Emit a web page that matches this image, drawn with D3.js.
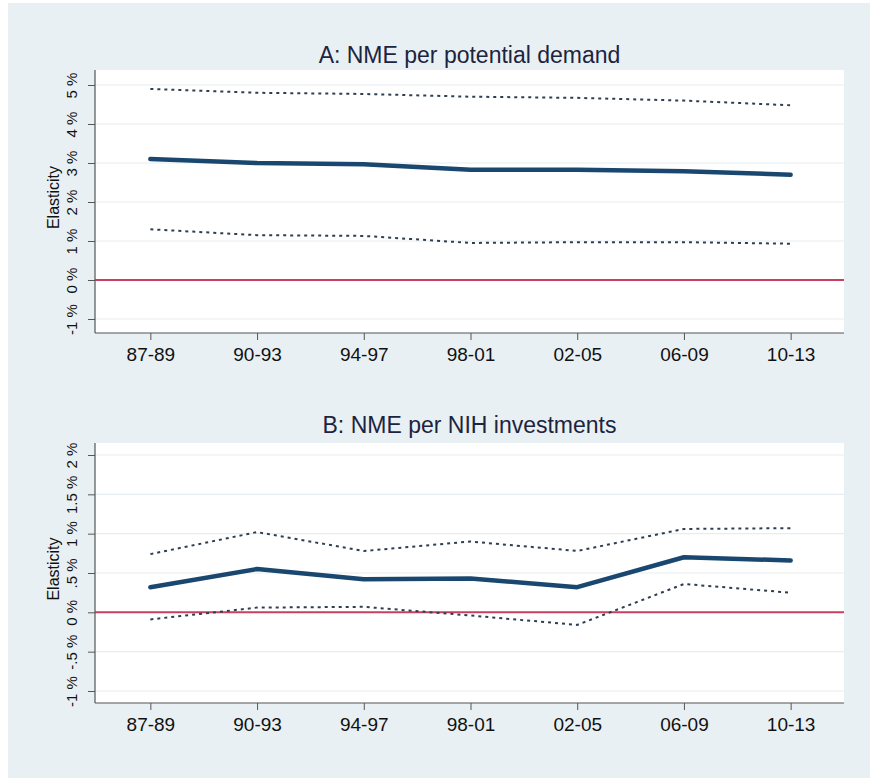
<!DOCTYPE html>
<html>
<head>
<meta charset="utf-8">
<script src="https://cdn.jsdelivr.net/npm/d3@7"></script>
<style>
  body { margin: 0; background: #ffffff; }
  svg { display: block; font-family: "Liberation Sans", Arial, Helvetica, sans-serif; }
  .tick_label { font-size: 19px; fill: #111; }
  .ytick_label { font-size: 15px; fill: #111; }
  .panel_title { font-size: 23px; fill: #1c2440; }
  .axis_title { font-size: 16px; fill: #111; }
</style>
</head>
<body>
<svg id="chart" width="870" height="778"></svg>
<script>
// periods on the x axis
var periods = ["87-89", "90-93", "94-97", "98-01", "02-05", "06-09", "10-13"];

// Panel A: NME per potential demand (elasticity, %)
var demandEstimate = [3.10, 3.00, 2.97, 2.83, 2.83, 2.79, 2.70];
var demandUpper    = [4.90, 4.80, 4.77, 4.70, 4.67, 4.60, 4.48];
var demandLower    = [1.30, 1.15, 1.13, 0.95, 0.97, 0.97, 0.93];
var demandTicks      = [-1, 0, 1, 2, 3, 4, 5];
var demandTickLabels = ["-1 %", "0 %", "1 %", "2 %", "3 %", "4 %", "5 %"];

// Panel B: NME per NIH investments (elasticity, %)
var nihEstimate = [0.32, 0.55, 0.42, 0.43, 0.32, 0.70, 0.66];
var nihUpper    = [0.74, 1.02, 0.78, 0.90, 0.78, 1.06, 1.07];
var nihLower    = [-0.09, 0.06, 0.07, -0.04, -0.16, 0.36, 0.25];
var nihTicks      = [-1, -0.5, 0, 0.5, 1, 1.5, 2];
var nihTickLabels = ["-1 %", "-.5 %", "0 %", ".5 %", "1 %", "1.5 %", "2 %"];

var svg = d3.select("#chart");

// outer background
svg.append("rect")
    .attr("x", 8).attr("y", 3)
    .attr("width", 862).attr("height", 775)
    .attr("fill", "#e9f0f3");

const plotLeft = 95, plotRight = 844;

var xScale = d3.scalePoint()
    .domain(periods)
    .range([plotLeft + 2, plotRight])
    .padding(0.5);

function drawPanel(opts) {
    var g = svg.append("g");
    var yScale = d3.scaleLinear()
        .domain([opts.ticks[0], opts.ticks[opts.ticks.length - 1]])
        .range(opts.tickRange);

    // plot region
    g.append("rect")
        .attr("x", plotLeft).attr("y", opts.top)
        .attr("width", plotRight - plotLeft).attr("height", opts.bottom - opts.top)
        .attr("fill", "white");

    // grid lines
    g.selectAll("line.grid")
        .data(opts.ticks).enter()
        .append("line").classed("grid", true)
        .attr("x1", plotLeft).attr("x2", plotRight)
        .attr("y1", d => yScale(d)).attr("y2", d => yScale(d))
        .attr("stroke", "#e6edf0")
        .attr("stroke-width", 1.2);

    // zero reference line
    g.append("line")
        .attr("x1", plotLeft).attr("x2", plotRight)
        .attr("y1", yScale(0)).attr("y2", yScale(0))
        .attr("stroke", "#c8405f")
        .attr("stroke-width", 2);

    // y axis
    var yAxis = d3.axisLeft(yScale)
        .tickValues(opts.ticks)
        .tickSize(7)
        .tickSizeOuter(0)
        .tickFormat((d, i) => opts.tickLabels[i]);
    var yg = g.append("g")
        .attr("transform", "translate(" + plotLeft + ",0)")
        .call(yAxis);
    yg.select(".domain").remove();
    yg.selectAll(".tick line").attr("stroke", "#555");
    yg.selectAll(".tick text")
        .attr("class", "ytick_label")
        .attr("x", null).attr("dy", null)
        .attr("font-size", null).attr("font-family", null).attr("fill", null)
        .attr("text-anchor", "middle")
        .attr("transform", "translate(-18,0) rotate(-90)");

    // x axis
    var xAxis = d3.axisBottom(xScale)
        .tickSize(7)
        .tickSizeOuter(0)
        .tickPadding(8);
    var xg = g.append("g")
        .attr("transform", "translate(0," + opts.bottom + ")")
        .call(xAxis);
    xg.select(".domain").remove();
    xg.selectAll(".tick line").attr("stroke", "#555");
    xg.selectAll(".tick text")
        .attr("class", "tick_label")
        .attr("font-size", null).attr("font-family", null).attr("fill", null);

    // axis lines
    g.append("line")
        .attr("x1", plotLeft).attr("x2", plotLeft)
        .attr("y1", opts.top).attr("y2", opts.bottom)
        .attr("stroke", "#555").attr("stroke-width", 1.2);
    g.append("line")
        .attr("x1", plotLeft).attr("x2", plotRight)
        .attr("y1", opts.bottom).attr("y2", opts.bottom)
        .attr("stroke", "#555").attr("stroke-width", 1.2);

    var line = d3.line()
        .x((d, i) => xScale(periods[i]))
        .y(d => yScale(d));

    [opts.upper, opts.lower].forEach(function(series) {
        g.append("path")
            .attr("d", line(series))
            .attr("fill", "none")
            .attr("stroke", "#2e3e52")
            .attr("stroke-width", 2)
            .attr("stroke-dasharray", "3,4");
    });

    g.append("path")
        .attr("d", line(opts.estimate))
        .attr("fill", "none")
        .attr("stroke", "#1a476f")
        .attr("stroke-width", 4.5)
        .attr("stroke-linecap", "round")
        .attr("stroke-linejoin", "round");

    // titles
    g.append("text")
        .attr("class", "panel_title")
        .attr("x", (plotLeft + plotRight) / 2)
        .attr("y", opts.titleY)
        .attr("text-anchor", "middle")
        .text(opts.title);

    g.append("text")
        .attr("class", "axis_title")
        .attr("text-anchor", "middle")
        .attr("transform", "translate(59," + ((opts.top + opts.bottom) / 2 - 4) + ") rotate(-90)")
        .text("Elasticity");
}

drawPanel({
    title: "A: NME per potential demand",
    titleY: 63, top: 70, bottom: 333,
    tickRange: [319, 85],
    ticks: demandTicks, tickLabels: demandTickLabels,
    estimate: demandEstimate, upper: demandUpper, lower: demandLower
});

drawPanel({
    title: "B: NME per NIH investments",
    titleY: 433, top: 443, bottom: 703,
    tickRange: [691, 455],
    ticks: nihTicks, tickLabels: nihTickLabels,
    estimate: nihEstimate, upper: nihUpper, lower: nihLower
});
</script>
</body>
</html>
